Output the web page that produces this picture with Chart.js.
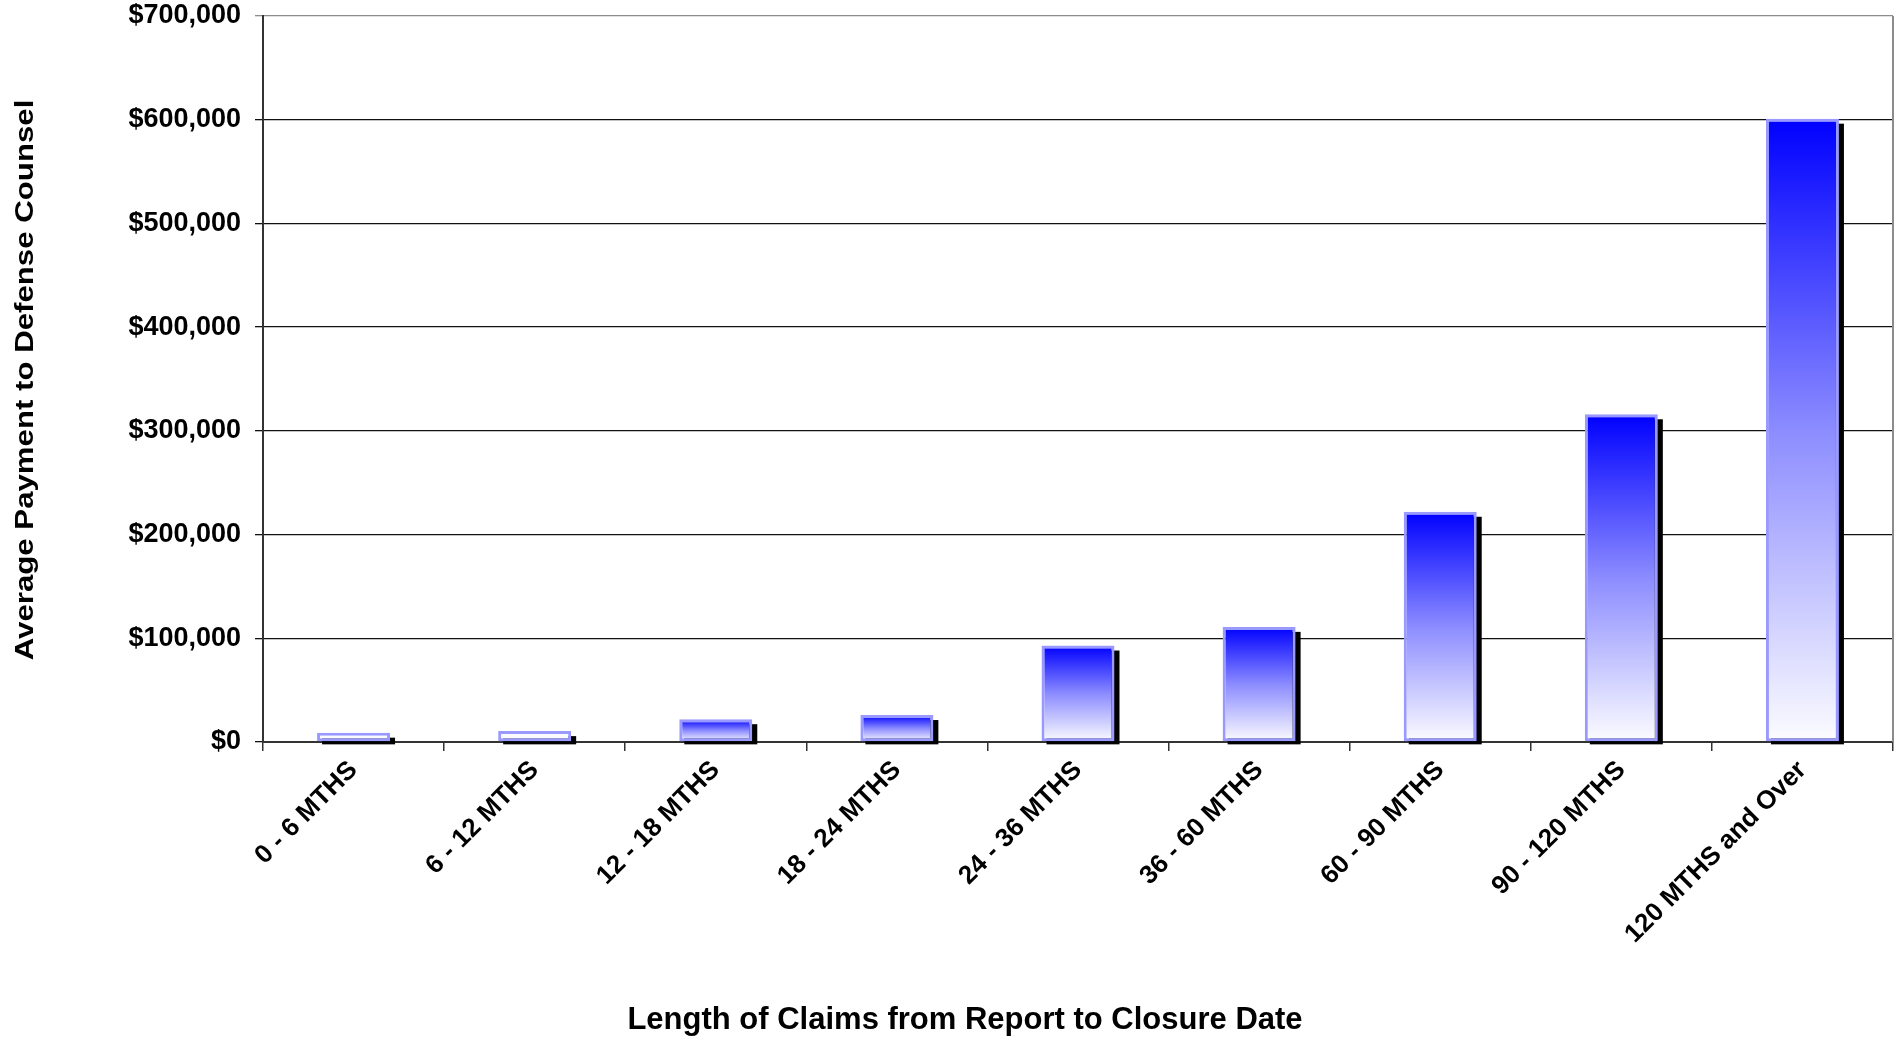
<!DOCTYPE html>
<html>
<head>
<meta charset="utf-8">
<script src="https://cdn.jsdelivr.net/npm/chart.js@4.4.1/dist/chart.umd.min.js"></script>
<style>
html,body{margin:0;padding:0;background:#fff;overflow:hidden}
#wrap{position:relative;width:1902px;height:1039px}
</style>
</head>
<body>
<div id="wrap"><canvas id="c"></canvas></div>
<script>
const categories = ['0 - 6 MTHS', '6 - 12 MTHS', '12 - 18 MTHS', '18 - 24 MTHS', '24 - 36 MTHS', '36 - 60 MTHS', '60 - 90 MTHS', '90 - 120 MTHS', '120 MTHS and Over'];
const avgPayment = [9000, 10500, 22000, 26000, 93000, 111000, 222000, 316000, 601000];
const yTickValues = [0, 100000, 200000, 300000, 400000, 500000, 600000, 700000];
const xAxisTitle = 'Length of Claims from Report to Closure Date';
const yAxisTitle = 'Average Payment to Defense Counsel';

const FONT = '"Liberation Sans", Arial, Helvetica, sans-serif';

function barGradient(context) {
  const chart = context.chart;
  const ys = chart.scales.y;
  if (!ys || !chart.chartArea) return '#6666ff';
  const v = context.raw;
  const top = ys.getPixelForValue(v);
  const bot = ys.getPixelForValue(0);
  if (bot - top < 16) return '#fbfbff';
  const g = chart.ctx.createLinearGradient(0, top, 0, bot);
  g.addColorStop(0, '#0000ff');
  g.addColorStop(0.5, '#8c8cff');
  g.addColorStop(1, '#fcfcff');
  return g;
}

const decor = {
  id: 'decor',
  beforeDatasetsDraw(chart) {
    const ctx = chart.ctx;
    const meta = chart.getDatasetMeta(0);
    ctx.save();
    ctx.fillStyle = '#000';
    meta.data.forEach(el => {
      const p = el.getProps(['x', 'y', 'base', 'width'], true);
      ctx.fillRect(p.x - p.width / 2 + 5, p.y + 5, p.width, p.base - p.y - 2);
    });
    ctx.restore();
  },
  afterDraw(chart) {
    const ctx = chart.ctx, a = chart.chartArea;
    ctx.save();
    ctx.strokeStyle = '#8c8c8c';
    ctx.lineWidth = 2;
    ctx.beginPath();
    ctx.moveTo(a.right, a.top);
    ctx.lineTo(a.right, a.bottom);
    ctx.stroke();
    ctx.fillStyle = '#000';
    ctx.textAlign = 'center';
    ctx.textBaseline = 'middle';
    ctx.font = 'bold 31px ' + FONT;
    ctx.fillText(xAxisTitle, 965, 1020);
    ctx.translate(26, 380);
    ctx.rotate(-Math.PI / 2);
    ctx.scale(1.2, 1);
    ctx.font = 'bold 26px ' + FONT;
    ctx.fillText(yAxisTitle, 0, 0);
    ctx.restore();
  }
};

new Chart(document.getElementById('c'), {
  type: 'bar',
  data: {
    labels: categories,
    datasets: [{
      data: avgPayment,
      backgroundColor: barGradient,
      borderColor: '#9999ff',
      borderWidth: 3,
      borderSkipped: false,
      barPercentage: 0.403,
      categoryPercentage: 1.0
    }]
  },
  options: {
    responsive: true,
    maintainAspectRatio: false,
    animation: false,
    layout: { padding: { top: 16, right: 9, left: 0, bottom: 0 } },
    plugins: { legend: { display: false }, tooltip: { enabled: false }, title: { display: false } },
    scales: {
      x: {
        offset: true,
        afterFit(scale) { scale.height = 297; scale.paddingLeft = 0; scale.paddingRight = 0; },
        grid: { offset: true, drawOnChartArea: false, drawTicks: true, tickLength: 9, color: '#333', lineWidth: 1.5 },
        border: { display: true, color: '#333', width: 2 },
        ticks: {
          autoSkip: false, maxRotation: 45, minRotation: 45, padding: 4,
          color: '#000', font: { family: FONT, size: 26, weight: 'bold' }
        }
      },
      y: {
        min: 0, max: 700000,
        afterFit(scale) { scale.width = 263; scale.paddingTop = 0; scale.paddingBottom = 0; },
        afterBuildTicks(scale) { scale.ticks = yTickValues.map(v => ({ value: v })); },
        grid: {
          drawTicks: true, tickLength: 8, lineWidth: 1.3,
          color: ctx => (ctx.tick && ctx.tick.value === 700000) ? '#8c8c8c' : '#111'
        },
        border: { display: true, color: '#333', width: 2 },
        ticks: {
          padding: 14, color: '#000',
          font: { family: FONT, size: 27, weight: 'bold' },
          callback: v => '$' + Number(v).toLocaleString('en-US')
        }
      }
    }
  },
  plugins: [decor]
});
</script>
</body>
</html>
